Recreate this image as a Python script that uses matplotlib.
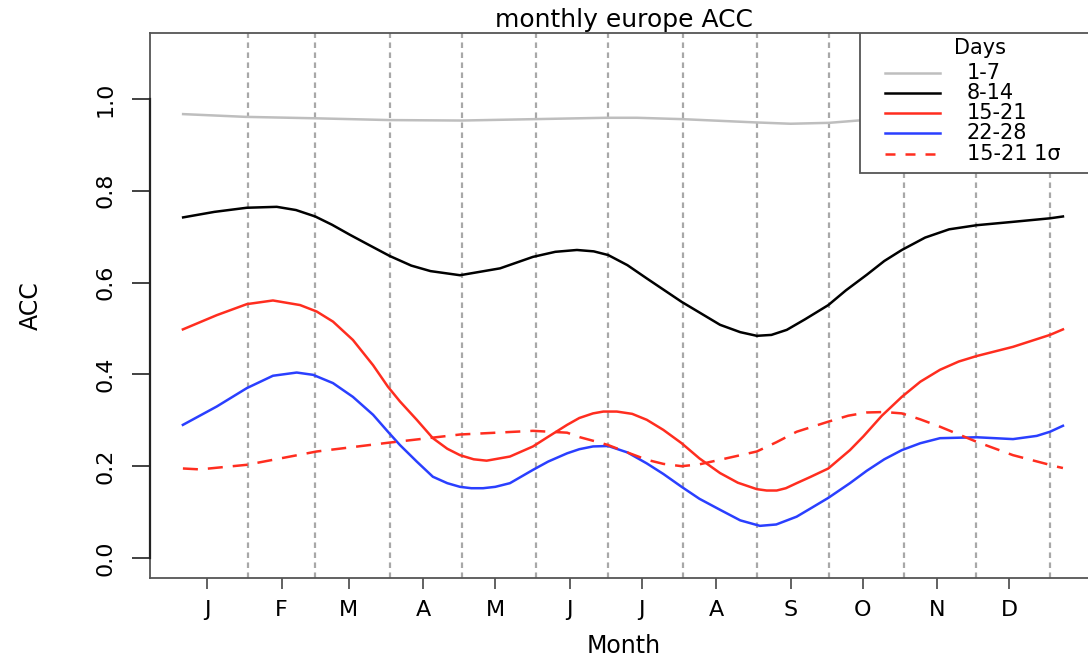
import matplotlib
matplotlib.use("Agg")
import matplotlib.pyplot as plt
from matplotlib.patches import Rectangle

plt.rcParams['font.family'] = ['DejaVu Sans']

# ---- data (x = day of year) ----
month_labels = ["J", "F", "M", "A", "M", "J", "J", "A", "S", "O", "N", "D"]
month_mid_days = [15, 46, 74, 105, 135, 166, 196, 227, 258, 288, 319, 349]
month_start_days = [32, 60, 91, 121, 152, 182, 213, 244, 274, 305, 335, 366]

d_1_7 = [5, 31, 59, 91, 121, 151, 181, 194, 213, 243, 258, 274, 286, 305, 335, 366, 371]
acc_1_7 = [0.967, 0.961, 0.958, 0.954, 0.953, 0.956, 0.959, 0.959, 0.956, 0.949, 0.946,
           0.948, 0.953, 0.958, 0.963, 0.966, 0.967]

d_8_14 = [5, 18, 31.5, 44, 52, 60, 67, 74.5, 82, 91, 100, 108, 120.3, 137, 150.7, 160,
          169, 176, 182, 190, 198.1, 212.6, 228.6, 237, 243.9, 250, 256.4, 264, 273.7,
          281, 289.7, 297, 304.3, 314, 324, 335.5, 350, 366, 371.4]
acc_8_14 = [0.742, 0.754, 0.763, 0.765, 0.758, 0.744, 0.726, 0.704, 0.683, 0.658, 0.637,
            0.625, 0.616, 0.631, 0.656, 0.667, 0.671, 0.668, 0.660, 0.638, 0.609, 0.558,
            0.508, 0.492, 0.484, 0.486, 0.497, 0.520, 0.551, 0.583, 0.617, 0.647, 0.671,
            0.698, 0.716, 0.725, 0.732, 0.740, 0.744]

d_15_21 = [4.9, 19, 31.5, 42.4, 53.7, 60.6, 67.4, 75.7, 84.1, 90.3, 95.3, 102.3, 109,
           115, 120.3, 126, 131.4, 141.1, 150.7, 157, 164.9, 170, 175.7, 180, 185.6, 192,
           198.1, 205, 212.6, 220, 228.6, 236, 243.9, 248, 252.2, 256, 260.5, 266, 273.7,
           282.7, 288.3, 296, 304.3, 312, 320.2, 328, 335.5, 350.6, 366, 371.4]
acc_15_21 = [0.498, 0.529, 0.553, 0.561, 0.551, 0.537, 0.515, 0.475, 0.420, 0.373, 0.341,
             0.301, 0.261, 0.238, 0.224, 0.215, 0.212, 0.221, 0.243, 0.264, 0.290, 0.305,
             0.315, 0.319, 0.319, 0.314, 0.301, 0.279, 0.250, 0.217, 0.185, 0.164, 0.150,
             0.147, 0.147, 0.152, 0.163, 0.176, 0.195, 0.235, 0.265, 0.310, 0.351, 0.384,
             0.410, 0.428, 0.440, 0.460, 0.486, 0.498]

d_22_28 = [4.9, 19, 31.5, 42.4, 52.3, 59.1, 67.4, 75.7, 84.1, 90.3, 95.3, 102.3, 109,
           115, 120.3, 125, 129.9, 135, 141.1, 150.7, 157, 164.9, 170, 175.7, 182, 190,
           198.1, 205, 212.6, 220, 228.6, 237, 245.2, 252, 260.5, 266, 273.7, 282.7, 289.7,
           297, 304.3, 312, 320.2, 335.5, 350.6, 360.5, 366, 371.4]
acc_22_28 = [0.290, 0.330, 0.370, 0.397, 0.404, 0.399, 0.381, 0.351, 0.312, 0.275, 0.246,
             0.210, 0.177, 0.163, 0.155, 0.152, 0.152, 0.155, 0.163, 0.192, 0.210, 0.228,
             0.237, 0.243, 0.244, 0.230, 0.206, 0.183, 0.155, 0.129, 0.105, 0.082, 0.070,
             0.073, 0.090, 0.107, 0.131, 0.163, 0.190, 0.215, 0.235, 0.250, 0.261, 0.263,
             0.259, 0.266, 0.275, 0.288]

d_15_21_sd = [4.9, 12, 31.5, 60.6, 90.3, 120.3, 150.7, 164.9, 170.3, 177.4, 182, 190,
              198.1, 205, 212.6, 220, 228.6, 243.9, 252, 260.5, 273.7, 282, 289.7, 297,
              304.3, 312, 320.2, 335.5, 350.6, 368.8, 371.4]
acc_15_21_sd = [0.195, 0.193, 0.203, 0.232, 0.251, 0.269, 0.277, 0.273, 0.263, 0.253,
                0.246, 0.230, 0.214, 0.205, 0.200, 0.204, 0.214, 0.232, 0.252, 0.275,
                0.297, 0.310, 0.317, 0.318, 0.315, 0.302, 0.286, 0.253, 0.224, 0.199, 0.196]

y_ticks = [0.0, 0.2, 0.4, 0.6, 0.8, 1.0]
legend_labels = ["1-7", "8-14", "15-21", "22-28", "15-21 1σ"]

# ---- figure ----
W, H = 1088, 659
fig = plt.figure(figsize=(W / 100, H / 100), dpi=100)
L, R, T, B = 150, 1098, 33, 578
ax = fig.add_axes([L / W, (H - B) / H, (R - L) / W, (B - T) / H])

GRAY = '#BEBEBE'
RED = '#FF2D1F'
BLUE = '#2A3FFF'
EDGE = '#555555'

for d in month_start_days:
    ax.axvline(d, color='#A8A8A8', lw=1.6, ls=(0, (2.5, 2.0)), zorder=1)

ax.plot(d_1_7, acc_1_7, color=GRAY, lw=1.8, zorder=3)
ax.plot(d_8_14, acc_8_14, color='black', lw=1.8, zorder=3)
ax.plot(d_15_21, acc_15_21, color=RED, lw=1.8, zorder=3)
ax.plot(d_22_28, acc_22_28, color=BLUE, lw=1.8, zorder=3)
ax.plot(d_15_21_sd, acc_15_21_sd, color=RED, lw=1.8, ls=(0, (6, 4)), zorder=3)

ax.set_xlim(-8.8, 386.0)
ax.set_ylim(-0.0436, 1.1437)

for s in ax.spines.values():
    s.set_color(EDGE)
    s.set_linewidth(1.3)
# darker axis line along the labelled y range
ax.plot([0, 0], [0.0, 1.0], transform=ax.get_yaxis_transform(), color='#222222',
        lw=1.6, clip_on=False, zorder=4)

ax.set_xticks(month_mid_days)
ax.set_xticklabels(month_labels)
ax.set_yticks(y_ticks)
ax.set_yticklabels([f"{v:.1f}" for v in y_ticks], rotation=90, va='center')
ax.tick_params(axis='x', length=8, width=1.3, color=EDGE, pad=8, labelsize=16)
ax.tick_params(axis='y', which='both', left=True, right=True, labelright=False,
               labelsize=16, width=1.3, color='#333333')
ax.tick_params(axis='y', length=13, pad=12, direction='out')
for t in ax.yaxis.get_major_ticks():
    t.tick2line.set_marker(3)
    t.tick2line.set_markersize(14)

ax.set_xlabel("Month", fontsize=17, labelpad=10)
ax.set_ylabel("ACC", fontsize=17, labelpad=38)
ax.set_title("monthly europe ACC", fontsize=18, pad=4)

# ---- legend (top right, inside the box) ----
def fx(px):
    return (px - L) / (R - L)

def fy(py):
    return (B - py) / (B - T)

ax.add_patch(Rectangle((fx(860), fy(173)), 1 - fx(860), 1 - fy(173), transform=ax.transAxes,
                       facecolor='white', edgecolor=EDGE, lw=1.3, zorder=5))
ax.text(fx(979.5), fy(48), "Days", transform=ax.transAxes, ha='center', va='center',
        fontsize=15, zorder=6)
rows = [72.7, 93.3, 113.3, 133.3, 154]
styles = [(GRAY, '-'), ('black', '-'), (RED, '-'), (BLUE, '-'), (RED, (0, (4, 4)))]
for lab, py, (c, ls) in zip(legend_labels, rows, styles):
    ax.plot([fx(885), fx(940)], [fy(py), fy(py)], transform=ax.transAxes, color=c, ls=ls,
            lw=1.8, zorder=6, clip_on=False)
    ax.text(fx(967), fy(py), lab, transform=ax.transAxes, ha='left', va='center',
            fontsize=15, zorder=6)

fig.savefig("out.png", dpi=100)
